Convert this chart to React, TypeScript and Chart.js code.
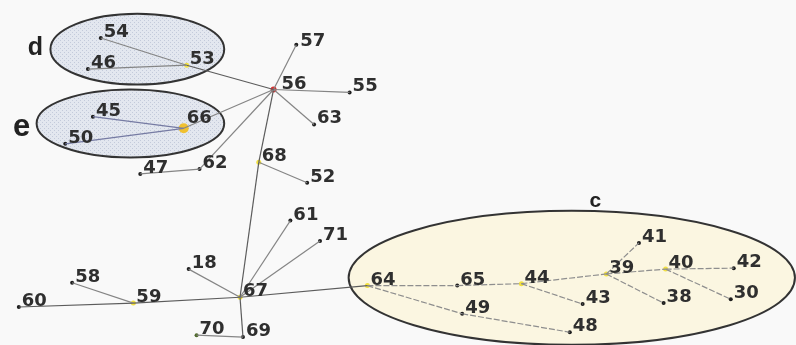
import React, { useEffect, useRef } from "react";
import { Chart, registerables } from "chart.js";

Chart.register(...registerables);

// ---- Data ----
const nodeIds = ["54", "46", "53", "57", "56", "55", "63", "45", "66", "50", "47", "62", "68", "52", "61", "71", "18", "58", "59", "60", "67", "70", "69", "64", "65", "44", "43", "49", "48", "39", "41", "38", "40", "42", "30"];
const nodeX = [97, 84, 184, 295, 272, 349, 313, 89, 181, 61, 137, 197, 257, 306, 289, 319, 186, 68, 130, 14, 238, 194, 241, 367, 458, 523, 585, 463, 572, 609, 642, 667, 669, 738, 735];
const nodeY = [34, 66, 62, 41, 87, 90, 123, 115, 127, 143, 174, 169, 162, 183, 222, 243, 272, 286, 307, 311, 301, 340, 342, 289, 289, 287, 308, 318, 337, 277, 245, 307, 272, 271, 303];

const edgeFrom = ["54", "46", "53", "56", "56", "56", "56", "56", "56", "62", "66", "66", "68", "68", "67", "67", "67", "67", "67", "67", "59", "59", "69", "64", "64", "65", "49", "44", "44", "39", "39", "39", "40", "40"];
const edgeTo = ["53", "53", "56", "57", "55", "63", "66", "62", "68", "47", "45", "50", "52", "67", "61", "71", "18", "59", "64", "69", "58", "60", "70", "65", "49", "44", "48", "43", "39", "41", "38", "40", "42", "30"];

const clusterNames = ["d", "e", "c"];
const clusterCX = [134, 127, 574];
const clusterCY = [45.5, 122, 281];
const clusterRX = [88, 95, 226];
const clusterRY = [36.5, 35, 69];
const clusterLabelX = [23, 8, 592];
const clusterLabelY = [52, 135, 208];

const clusterC = ["64", "65", "44", "43", "49", "48", "39", "41", "38", "40", "42", "30"];
const hubNodes = ["53", "68", "67", "59", "64", "44", "39", "40"];

// ---- helpers ----
const idx = (id: string) => nodeIds.indexOf(id);

function makeDotPattern(ctx: CanvasRenderingContext2D) {
  const c = document.createElement("canvas");
  c.width = 4;
  c.height = 4;
  const p = c.getContext("2d")!;
  p.fillStyle = "#e3e7ef";
  p.fillRect(0, 0, 4, 4);
  p.fillStyle = "#c3cada";
  p.fillRect(0, 0, 1, 1);
  p.fillRect(2, 2, 1, 1);
  return ctx.createPattern(c, "repeat");
}

const ellipsePlugin = {
  id: "ellipses",
  beforeDatasetsDraw(chart: any) {
    const { ctx, scales } = chart;
    const xs = scales.x;
    const ys = scales.y;
    ctx.save();
    const pattern = makeDotPattern(ctx);
    clusterNames.forEach((name, i) => {
      const cx = xs.getPixelForValue(clusterCX[i]);
      const cy = ys.getPixelForValue(clusterCY[i]);
      const rx = Math.abs(xs.getPixelForValue(clusterCX[i] + clusterRX[i]) - cx);
      const ry = Math.abs(ys.getPixelForValue(clusterCY[i] + clusterRY[i]) - cy);
      ctx.beginPath();
      ctx.ellipse(cx, cy, rx, ry, 0, 0, Math.PI * 2);
      ctx.fillStyle = name === "c" ? "#fbf6e1" : pattern || "#e3e7ef";
      ctx.fill();
      ctx.lineWidth = 2;
      ctx.strokeStyle = "#333333";
      ctx.stroke();
      // cluster letter
      ctx.fillStyle = "#222222";
      ctx.textAlign = "left";
      ctx.textBaseline = "alphabetic";
      ctx.font =
        name === "e"
          ? 'bold 31px "Liberation Sans", Arial, sans-serif'
          : name === "d"
          ? 'bold 25px "Liberation Sans", Arial, sans-serif'
          : 'bold 21px "Liberation Sans", Arial, sans-serif';
      ctx.fillText(name, xs.getPixelForValue(clusterLabelX[i]), ys.getPixelForValue(clusterLabelY[i]));
    });
    ctx.restore();
  },
};

const labelOffsets: Record<string, [number, number]> = {
  "56": [8, 0],
  "66": [3, -5],
  "57": [4, 1],
};

const labelPlugin = {
  id: "nodeLabels",
  afterDatasetsDraw(chart: any) {
    const { ctx, scales } = chart;
    ctx.save();
    ctx.font = 'bold 18px "DejaVu Sans", sans-serif';
    ctx.fillStyle = "#2f2f2f";
    ctx.textAlign = "left";
    ctx.textBaseline = "alphabetic";
    nodeIds.forEach((id, i) => {
      const off = labelOffsets[id] || [3, -1];
      const px = scales.x.getPixelForValue(nodeX[i]) + off[0];
      const py = scales.y.getPixelForValue(nodeY[i]) + off[1];
      ctx.fillText(id, px, py);
    });
    ctx.restore();
  },
};

const bgPlugin = {
  id: "bg",
  beforeDraw(chart: any) {
    const { ctx, width, height } = chart;
    ctx.save();
    ctx.fillStyle = "#f9f9f9";
    ctx.fillRect(0, 0, width, height);
    ctx.restore();
  },
};

export default function App() {
  const ref = useRef<HTMLCanvasElement | null>(null);

  useEffect(() => {
    if (!ref.current) return;

    const edgeDatasets = edgeFrom.map((f, k) => {
      const a = idx(f);
      const b = idx(edgeTo[k]);
      const inC = clusterC.includes(f) && clusterC.includes(edgeTo[k]);
      const dark = ["53-56", "56-68", "68-67", "67-59", "67-64", "59-60", "67-69"].includes(f + "-" + edgeTo[k]);
      const bluish = f === "66" && (edgeTo[k] === "45" || edgeTo[k] === "50");
      return {
        type: "scatter" as const,
        data: [
          { x: nodeX[a], y: nodeY[a] },
          { x: nodeX[b], y: nodeY[b] },
        ],
        showLine: true,
        borderColor: bluish ? "#767ba3" : inC ? "#8e8e8e" : dark ? "#5c5c5c" : "#858585",
        borderWidth: 1.2,
        borderDash: inC ? [6, 2] : [],
        pointRadius: 0,
        clip: false as any,
      };
    });

    const nodeColors = nodeIds.map((id) =>
      id === "56" ? "#d93030" : id === "66" ? "#f0c030" : id === "70" ? "#4f6a2a" : hubNodes.includes(id) ? "#f2e040" : "#1e1e1e"
    );
    const nodeRadii = nodeIds.map((id) => (id === "66" ? 5 : id === "56" ? 3 : hubNodes.includes(id) ? 2.5 : 2));

    const chart = new Chart(ref.current, {
      type: "scatter",
      data: {
        datasets: [
          ...edgeDatasets,
          {
            type: "scatter" as const,
            data: nodeIds.map((_, i) => ({ x: nodeX[i], y: nodeY[i] })),
            pointRadius: nodeRadii,
            pointBackgroundColor: nodeColors,
            pointBorderWidth: 0,
            showLine: false,
            clip: false as any,
          },
        ],
      },
      options: {
        animation: false,
        responsive: false,
        layout: { padding: 0 },
        plugins: { legend: { display: false }, tooltip: { enabled: false } },
        scales: {
          x: { type: "linear", min: 0, max: 796, display: false },
          y: { type: "linear", min: 0, max: 345, reverse: true, display: false },
        },
      },
      plugins: [bgPlugin, ellipsePlugin, labelPlugin],
    });

    return () => chart.destroy();
  }, []);

  return (
    <div style={{ position: "fixed", left: 0, top: 0, width: 796, height: 345 }}>
      <canvas ref={ref} width={796} height={345} />
    </div>
  );
}
